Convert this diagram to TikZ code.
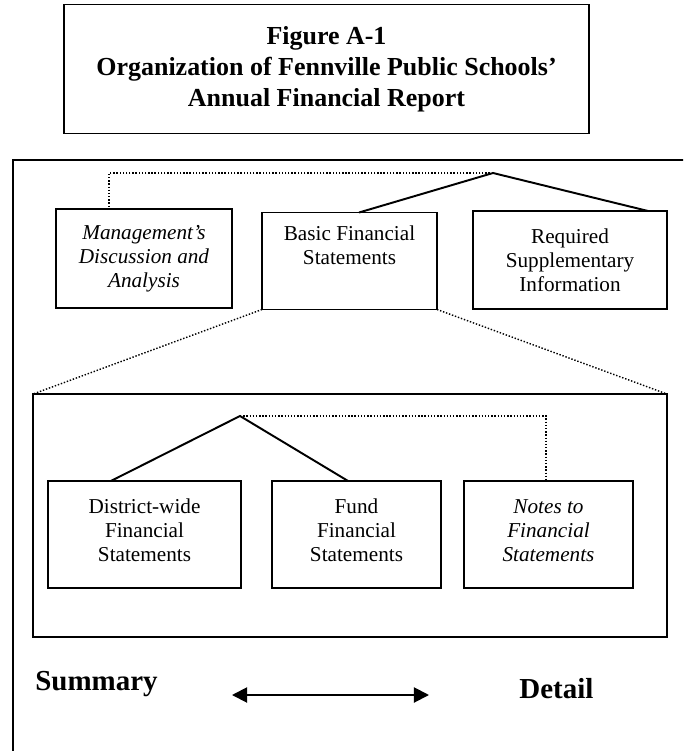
\documentclass[tikz,border=0pt]{standalone}
\usepackage{fontspec}
\setmainfont{Liberation Serif}
\usetikzlibrary{arrows.meta}

\begin{document}
\begin{tikzpicture}[
        x=0.566pt, y=-0.566pt,
        box/.style={draw, line width=0.8pt, inner sep=0pt, outer sep=0pt, align=center,
            font=\fontsize{12}{13.6}\selectfont},
        itbox/.style={box, font=\fontsize{12}{13.6}\selectfont\itshape},
        frame/.style={draw, line width=1pt, inner sep=0pt, outer sep=0pt},
        link/.style={line width=1.1pt},
        dots/.style={line width=0.8pt, dash pattern=on 0.8pt off 1pt},
        side/.style={font=\fontsize{16.4}{19}\selectfont\bfseries, inner sep=0pt, anchor=base west}
    ]
    \useasboundingbox (0,0) rectangle (683,751);
    \clip (0,0) rectangle (683,751);

    % 标题框
    \node[box, minimum width=297.2pt, minimum height=73pt,
        font=\fontsize{14.7}{17.5}\selectfont\bfseries] (title) at (326.5,69)
        {Figure A-1\\Organization of Fennville Public Schools'\\Annual Financial Report};

    % 外框 (右边与下边在图外)
    \draw[line width=1.1pt] (13,160) rectangle (690,760);

    % 第一层: 报告的三部分
    \coordinate (top) at (493,173);
    \node[itbox, minimum width=99.6pt, minimum height=56pt] (mda) at (144,258.5)
        {Management's\\Discussion and\\Analysis};
    \node[box, minimum width=99.05pt, minimum height=54.9pt] (bfs) at (349.5,261)
        {Basic Financial\\Statements\\\strut};
    \node[box, minimum width=109.8pt, minimum height=55.5pt] (rsi) at (570,260)
        {Required\\Supplementary\\Information};

    \draw[link] ([xshift=5.4pt]bfs.north) -- (top) -- ([xshift=-10.8pt]rsi.north east);
    \draw[dots] (top) -| ([xshift=-19.8pt]mda.north);

    % 第二层: 基本财务报表
    \node[frame, minimum width=358.8pt, minimum height=137.5pt] (inner) at (350,515.5) {};
    \draw[dots] (bfs.south west) -- (inner.north west);
    \draw[dots] (bfs.south east) -- (inner.north east);

    \coordinate (top2) at (240,416);
    \node[box, minimum width=109.2pt, minimum height=60.6pt] (dwfs) at (144.5,534.5)
        {District-wide\\Financial\\Statements\\[-9pt]};
    \node[box, minimum width=95.7pt, minimum height=60.6pt] (ffs) at (356.5,534.5)
        {Fund\\Financial\\Statements\\[-9pt]};
    \node[itbox, minimum width=95.7pt, minimum height=60.6pt] (nfs) at (548.5,534.5)
        {Notes to\\Financial\\Statements\\[-9pt]};

    \draw[link] ([xshift=-19pt]dwfs.north) -- (top2) -- ([xshift=-4.8pt]ffs.north);
    \draw[dots] (top2) -| ([xshift=-1.4pt]nfs.north);

    % 概要 <-> 详细
    \node[side] (sum) at (35,690) {Summary};
    \node[side] (det) at (519,698) {Detail};
    \coordinate (al) at (232,695);
    \coordinate (ar) at (429,695);
    \draw[link, {Triangle[length=8.5pt,width=8.5pt]}-{Triangle[length=8.5pt,width=8.5pt]}] (al) -- (ar);

\end{tikzpicture}
\end{document}
